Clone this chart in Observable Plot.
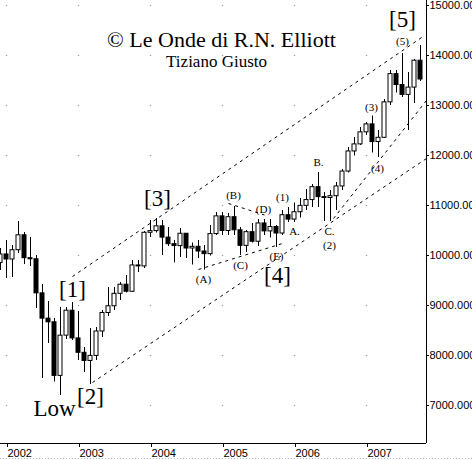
<!DOCTYPE html>
<html><head><meta charset="utf-8">
<script src="https://cdn.jsdelivr.net/npm/d3@7"></script>
<script src="https://cdn.jsdelivr.net/npm/@observablehq/plot@0.6"></script>
<style>
html,body{margin:0;padding:0;background:#fff;}
#chart svg{display:block;}
</style></head><body><div id="chart"></div>
<script>
// Monthly candles (Dow Jones), Dec 2001 .. Oct 2007
const months = [
  "2001-12",
  "2002-01","2002-02","2002-03","2002-04","2002-05","2002-06","2002-07","2002-08","2002-09","2002-10","2002-11","2002-12",
  "2003-01","2003-02","2003-03","2003-04","2003-05","2003-06","2003-07","2003-08","2003-09","2003-10","2003-11","2003-12",
  "2004-01","2004-02","2004-03","2004-04","2004-05","2004-06","2004-07","2004-08","2004-09","2004-10","2004-11","2004-12",
  "2005-01","2005-02","2005-03","2005-04","2005-05","2005-06","2005-07","2005-08","2005-09","2005-10","2005-11","2005-12",
  "2006-01","2006-02","2006-03","2006-04","2006-05","2006-06","2006-07","2006-08","2006-09","2006-10","2006-11","2006-12",
  "2007-01","2007-02","2007-03","2007-04","2007-05","2007-06","2007-07","2007-08","2007-09","2007-10"
];
const opens = [
  9851,
  10021,9920,10106,10404,9946,9925,9243,8737,8664,7592,8397,8896,
  8342,8054,7891,7992,8480,8850,8985,9234,9416,9275,9801,9782,
  10454,10488,10584,10358,10226,10188,10435,10140,10174,10080,10027,10428,
  10783,10490,10766,10504,10193,10467,10275,10641,10482,10569,10440,10806,
  10718,10865,10993,11109,11367,11168,11150,11186,11381,11679,12081,12222,
  12463,12622,12269,12354,13063,13628,13409,13212,13358,13896
];
const highs = [
  10140,
  10300,10200,10680,10460,10360,10000,9420,9080,8740,8960,8960,9060,
  8880,8160,8540,8560,8900,9360,9360,9460,9600,9900,9900,10480,
  10700,10740,10700,10560,10300,10540,10440,10250,10300,10200,10600,10860,
  10860,10840,10980,10560,10500,10640,10720,10720,10720,10600,10900,10960,
  11050,11140,11320,11420,11660,11260,11300,11460,11720,12160,12360,12560,
  12660,12790,12500,13120,13700,13700,14040,13660,13920,14200
];
const lows = [
  9700,
  9540,9560,10040,9820,9780,8940,7540,8240,7470,7200,8320,8300,
  7900,7660,7420,7900,8360,8780,8900,9100,9250,9260,9660,9740,
  10360,10450,10000,10180,9852,9960,9940,9810,9940,9708,9990,10400,
  10400,10400,10400,10000,10060,10250,10180,10400,10350,10160,10400,10660,
  10660,10750,10900,10960,10960,10680,10680,10900,11300,11650,11990,12200,
  12400,12050,11960,12340,13000,13250,13160,12500,13040,13480
];
const closes = [
  10021,
  9920,10106,10404,9946,9925,9243,8737,8664,7592,8397,8896,8342,
  8054,7891,7992,8480,8850,8985,9234,9416,9275,9801,9782,10454,
  10488,10584,10358,10226,10188,10435,10140,10174,10080,10027,10428,10783,
  10490,10766,10504,10193,10467,10275,10641,10482,10569,10440,10806,10718,
  10865,10993,11109,11367,11168,11150,11186,11381,11679,12081,12222,12463,
  12622,12269,12354,13063,13628,13409,13212,13358,13896,13520
];

// Axis ticks
const yearTicks = [2002, 2003, 2004, 2005, 2006, 2007];
const priceTicks = [7000, 8000, 9000, 10000, 11000, 12000, 13000, 14000, 15000];

// Elliott wave labels (decimal year, price)
const bigLabels = ["[1]", "[2]", "[3]", "[4]", "[5]", "Low"];
const bigLabelT = [2002.917, 2003.167, 2004.097, 2005.764, 2007.5, 2002.667];
const bigLabelP = [9320, 7180, 11140, 9600, 14720, 6940];

const smallLabels = ["(A)", "(B)", "(C)", "(D)", "(E)", "(1)", "A.", "B.", "C.", "(2)", "(3)", "(4)", "(5)"];
const smallLabelT = [2004.736, 2005.153, 2005.25, 2005.569, 2005.75, 2005.833, 2006.0, 2006.333, 2006.486, 2006.486, 2007.069, 2007.153, 2007.5];
const smallLabelP = [9520, 11200, 9800, 10920, 9980, 11160, 10480, 11860, 10480, 10200, 12960, 11740, 14280];

// Dashed trend / channel lines: start and end (decimal year, price)
const lineT1 = [2002.917, 2003.194, 2004.667, 2005.083, 2006.542];
const lineP1 = [9580, 7460, 9720, 11040, 10740];
const lineT2 = [2007.806, 2007.833, 2005.833, 2005.583, 2007.833];
const lineP2 = [14400, 11940, 10240, 10810, 13100];

const titleText = "© Le Onde di R.N. Elliott";
const subtitleText = "Tiziano Giusto";

// ---- build tables
const candles = months.map((m, i) => {
  const [yy, mm] = m.split("-").map(Number);
  return {t: yy + (mm - 1) / 12, open: opens[i], high: highs[i], low: lows[i], close: closes[i]};
});
const grid = [];
for (const t of yearTicks) for (const p of priceTicks) grid.push({t, p});
const big = bigLabels.map((s, i) => ({s, t: bigLabelT[i], p: bigLabelP[i]}));
const small = smallLabels.map((s, i) => ({s, t: smallLabelT[i], p: smallLabelP[i]}));
const lines = lineT1.map((t, i) => ({t1: t, p1: lineP1[i], t2: lineT2[i], p2: lineP2[i]}));

const xMin = 2001 + 11 / 12, xMax = 2007 + 10 / 12;
const yMin = 6240, yMax = 15100;
const serif = "'Liberation Serif', 'Times New Roman', serif";
const sans = "'Liberation Sans', Arial, sans-serif";

const chart = Plot.plot({
  width: 472,
  height: 460,
  marginLeft: 0,
  marginRight: 46,
  marginTop: 0,
  marginBottom: 17,
  x: {domain: [xMin, xMax]},
  y: {domain: [yMin, yMax]},
  style: {background: "#fff", color: "#000", fontFamily: sans, fontSize: "11px"},
  marks: [
    Plot.dot(grid, {x: "t", y: "p", r: 0.7, fill: "#999", symbol: "square"}),
    Plot.link(lines, {x1: "t1", y1: "p1", x2: "t2", y2: "p2", stroke: "#000", strokeWidth: 1, strokeDasharray: "3,4"}),
    Plot.ruleX(candles, {x: "t", y1: "low", y2: "high", stroke: "#000", strokeWidth: 1}),
    Plot.rect(candles, {
      x1: d => d.t - 1 / 24, x2: d => d.t + 1 / 24,
      y1: "open", y2: "close",
      insetLeft: 1, insetRight: 1,
      fill: d => d.close >= d.open ? "#fff" : "#000",
      stroke: "#000", strokeWidth: 1
    }),
    Plot.ruleY([yMin], {stroke: "#000"}),
    Plot.ruleX([xMax], {stroke: "#000"}),
    Plot.axisY(priceTicks, {anchor: "right", tickSize: 2, tickPadding: 1, tickFormat: d => d.toFixed(3), textAnchor: "start", fontSize: 11, fontFamily: sans, label: null}),
    Plot.axisX(yearTicks, {anchor: "bottom", tickSize: 4, tickPadding: 2, tickFormat: d => String(d), textAnchor: "start", dx: 1, fontSize: 11, fontFamily: sans, label: null}),
    Plot.text(big, {x: "t", y: "p", text: "s", fontFamily: serif, fontSize: 23, fill: "#000", textAnchor: "middle", lineAnchor: "middle"}),
    Plot.text(small, {x: "t", y: "p", text: "s", fontFamily: serif, fontSize: 11, fill: "#000", textAnchor: "middle", lineAnchor: "middle"}),
    Plot.text([titleText], {x: 2004.986, y: 14320, text: d => d, fontFamily: serif, fontSize: 22, fill: "#000", textAnchor: "middle", lineAnchor: "middle"}),
    Plot.text([subtitleText], {x: 2004.917, y: 13880, text: d => d, fontFamily: serif, fontSize: 17, fill: "#000", textAnchor: "middle", lineAnchor: "middle"})
  ]
});

// faint dotted line along the bottom edge of the picture
d3.select(chart).append("line")
  .attr("x1", 0).attr("x2", 472).attr("y1", 458.5).attr("y2", 458.5)
  .attr("stroke", "#bbb").attr("stroke-dasharray", "1,2");

document.getElementById("chart").appendChild(chart);
</script>
</body></html>
